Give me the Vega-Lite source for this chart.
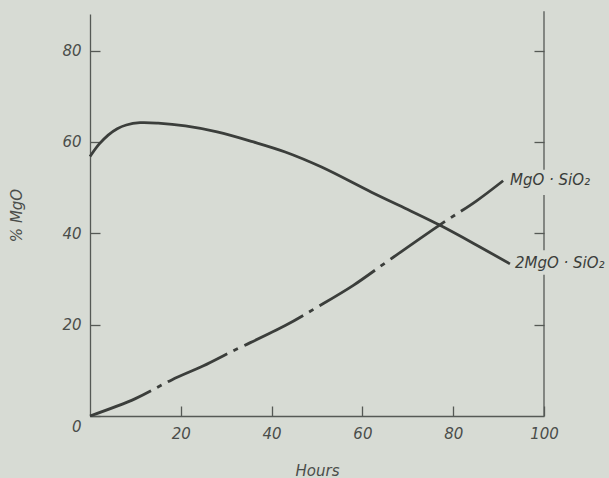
{
  "$schema": "https://vega.github.io/schema/vega-lite/v6.json",
  "width": 454,
  "height": 402,
  "autosize": {"type": "none"},
  "padding": {"left": 90, "top": 14, "right": 65, "bottom": 62},
  "background": "#d7dbd4",
  "config": {
    "view": {"stroke": null},
    "axis": {
      "domainColor": "#555955",
      "domainWidth": 1.3,
      "tickColor": "#555955",
      "tickWidth": 1.3,
      "grid": false,
      "labelFont": "DejaVu Sans",
      "labelFontStyle": "italic",
      "labelFontSize": 15,
      "labelColor": "#4a4d4a",
      "titleFont": "DejaVu Sans",
      "titleFontStyle": "italic",
      "titleFontWeight": "normal",
      "titleFontSize": 15,
      "titleColor": "#4a4d4a"
    }
  },
  "datasets": {
    "curves": [
      {"hours": 0, "mgo": 56.8, "phase": "2MgO · SiO₂"},
      {"hours": 2, "mgo": 59.5, "phase": "2MgO · SiO₂"},
      {"hours": 4, "mgo": 61.5, "phase": "2MgO · SiO₂"},
      {"hours": 6, "mgo": 62.9, "phase": "2MgO · SiO₂"},
      {"hours": 8, "mgo": 63.7, "phase": "2MgO · SiO₂"},
      {"hours": 11, "mgo": 64.2, "phase": "2MgO · SiO₂"},
      {"hours": 15, "mgo": 64.1, "phase": "2MgO · SiO₂"},
      {"hours": 21, "mgo": 63.5, "phase": "2MgO · SiO₂"},
      {"hours": 28, "mgo": 62.2, "phase": "2MgO · SiO₂"},
      {"hours": 36, "mgo": 60.0, "phase": "2MgO · SiO₂"},
      {"hours": 43, "mgo": 57.8, "phase": "2MgO · SiO₂"},
      {"hours": 51, "mgo": 54.5, "phase": "2MgO · SiO₂"},
      {"hours": 62, "mgo": 49.0, "phase": "2MgO · SiO₂"},
      {"hours": 70, "mgo": 45.2, "phase": "2MgO · SiO₂"},
      {"hours": 77, "mgo": 41.8, "phase": "2MgO · SiO₂"},
      {"hours": 85, "mgo": 37.5, "phase": "2MgO · SiO₂"},
      {"hours": 92.5, "mgo": 33.3, "phase": "2MgO · SiO₂"},
      {"hours": 0, "mgo": 0, "phase": "MgO · SiO₂"},
      {"hours": 10, "mgo": 3.8, "phase": "MgO · SiO₂"},
      {"hours": 18, "mgo": 7.9, "phase": "MgO · SiO₂"},
      {"hours": 25, "mgo": 11.0, "phase": "MgO · SiO₂"},
      {"hours": 31, "mgo": 14.0, "phase": "MgO · SiO₂"},
      {"hours": 43, "mgo": 19.8, "phase": "MgO · SiO₂"},
      {"hours": 50, "mgo": 23.8, "phase": "MgO · SiO₂"},
      {"hours": 58, "mgo": 28.6, "phase": "MgO · SiO₂"},
      {"hours": 66, "mgo": 34.2, "phase": "MgO · SiO₂"},
      {"hours": 77, "mgo": 41.8, "phase": "MgO · SiO₂"},
      {"hours": 85, "mgo": 47.0, "phase": "MgO · SiO₂"},
      {"hours": 91, "mgo": 51.5, "phase": "MgO · SiO₂"}
    ],
    "labels": [
      {"hours": 92.5, "mgo": 51.7, "text": "MgO · SiO₂"},
      {"hours": 93.6, "mgo": 33.5, "text": "2MgO · SiO₂"}
    ],
    "rightAxis": [
      {"hours": 100, "y0": 0, "y1": 30.9},
      {"hours": 100, "y0": 36.3, "y1": 48.4},
      {"hours": 100, "y0": 53.9, "y1": 88.6}
    ]
  },
  "layer": [
    {
      "data": {"name": "curves"},
      "transform": [{"filter": "datum.phase === '2MgO · SiO₂'"}],
      "mark": {"type": "line", "interpolate": "catmull-rom", "color": "#3b3e3b", "strokeWidth": 2.8},
      "encoding": {
        "x": {
          "field": "hours", "type": "quantitative",
          "scale": {"domain": [0, 100], "nice": false, "zero": false},
          "axis": {
            "title": "Hours",
            "values": [20, 40, 60, 80, 100],
            "tickSize": -10,
            "labelPadding": 20,
            "labelFlush": false,
            "titlePadding": 22
          }
        },
        "y": {
          "field": "mgo", "type": "quantitative",
          "scale": {"domain": [0, 88], "nice": false},
          "axis": {
            "title": "% MgO",
            "values": [0, 20, 40, 60, 80],
            "tickSize": -10,
            "labelPadding": 19,
            "labelFlush": false,
            "labelOffset": {"condition": {"test": "datum.value === 0", "value": 10}, "value": 0},
            "titlePadding": 37
          }
        }
      }
    },
    {
      "data": {"name": "curves"},
      "transform": [{"filter": "datum.phase === 'MgO · SiO₂'"}],
      "mark": {"type": "line", "interpolate": "catmull-rom", "color": "#3b3e3b", "strokeWidth": 2.8, "strokeDash": [66, 7, 5, 7]},
      "encoding": {
        "x": {"field": "hours", "type": "quantitative"},
        "y": {"field": "mgo", "type": "quantitative", "axis": null}
      }
    },
    {
      "data": {"name": "rightAxis"},
      "mark": {"type": "rule", "color": "#555955", "strokeWidth": 1.3},
      "encoding": {
        "x": {"field": "hours", "type": "quantitative"},
        "y": {
          "field": "y0", "type": "quantitative",
          "axis": {
            "orient": "right",
            "title": null,
            "labels": false,
            "domain": false,
            "values": [20, 40, 60, 80],
            "tickSize": -10
          }
        },
        "y2": {"field": "y1"}
      }
    },
    {
      "data": {"name": "labels"},
      "mark": {"type": "text", "align": "left", "baseline": "middle", "font": "DejaVu Sans", "fontStyle": "italic", "fontSize": 15, "color": "#3b3e3b"},
      "encoding": {
        "x": {"field": "hours", "type": "quantitative"},
        "y": {"field": "mgo", "type": "quantitative", "axis": null},
        "text": {"field": "text"}
      }
    }
  ],
  "resolve": {"axis": {"y": "independent"}}
}
